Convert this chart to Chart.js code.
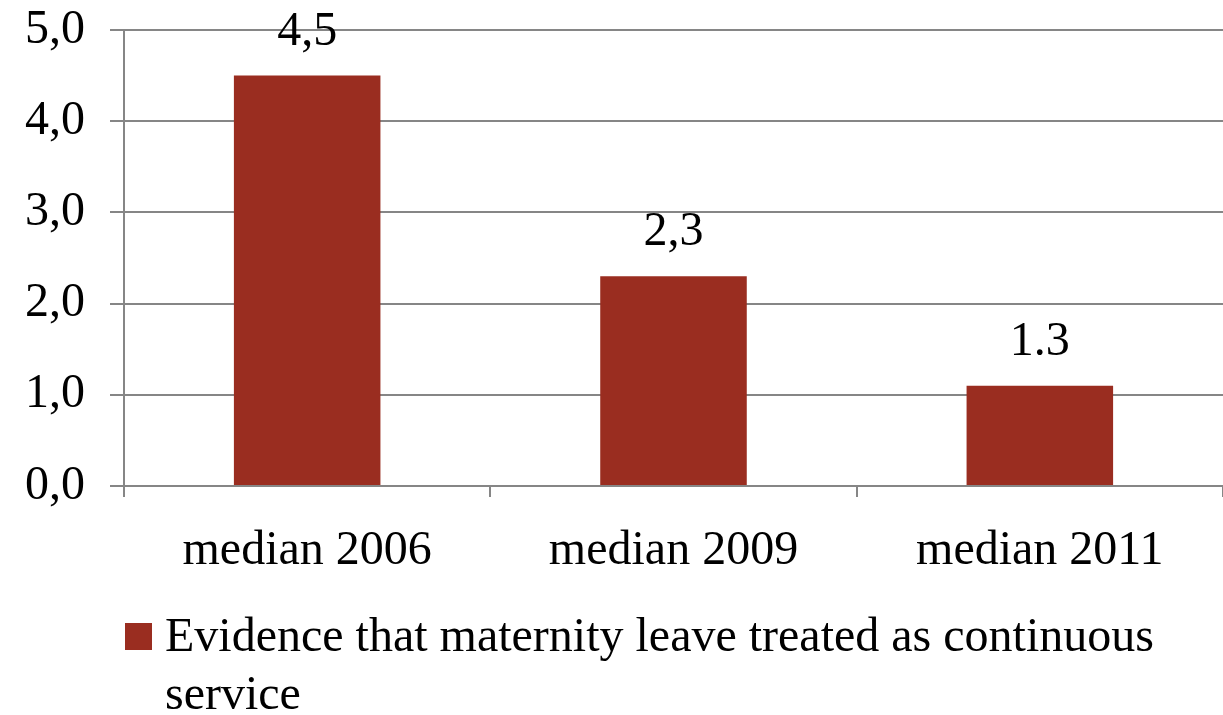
<!DOCTYPE html>
<html>
<head>
<meta charset="utf-8">
<script src="https://cdn.jsdelivr.net/npm/chart.js@4"></script>
<style>
  html, body { margin: 0; padding: 0; background: #fff; }
  #wrap { width: 1223px; height: 715px; }
</style>
</head>
<body>
<div id="wrap"><canvas id="maternityChart"></canvas></div>
<script>
const categories = ["median 2006", "median 2009", "median 2011"]
const values = [4.5, 2.3, 1.1]
const valueLabels = ["4,5", "2,3", "1.3"]
const yTicks = ["0,0", "1,0", "2,0", "3,0", "4,0", "5,0"]
const seriesName = "Evidence that maternity leave treated as continuous service"

const FONT = "'Liberation Serif', 'DejaVu Serif', serif"
const FONT_SIZE = 48
const barColor = "#9a2d20"
const gridColor = "#868686"

// value labels over each bar
const barLabels = {
  id: "barLabels",
  afterDatasetsDraw(chart) {
    const ctx = chart.ctx
    const meta = chart.getDatasetMeta(0)
    ctx.save()
    ctx.font = FONT_SIZE + "px " + FONT
    ctx.fillStyle = "#000"
    ctx.textAlign = "center"
    ctx.textBaseline = "alphabetic"
    meta.data.forEach((bar, i) => {
      ctx.fillText(valueLabels[i], bar.x, bar.y - 31)
    })
    ctx.restore()
  }
}

// legend at the bottom, wrapped onto two lines
const wrappedLegend = {
  id: "wrappedLegend",
  afterDraw(chart) {
    const ctx = chart.ctx
    ctx.save()
    ctx.font = FONT_SIZE + "px " + FONT
    const left = 165
    const maxWidth = chart.width - left - 20
    const words = chart.data.datasets[0].label.split(" ")
    const lines = []
    let line = ""
    words.forEach(w => {
      const test = line ? line + " " + w : w
      if (ctx.measureText(test).width > maxWidth && line) {
        lines.push(line)
        line = w
      } else {
        line = test
      }
    })
    lines.push(line)
    ctx.fillStyle = barColor
    ctx.fillRect(125, 623, 27, 27)
    ctx.fillStyle = "#000"
    ctx.textBaseline = "alphabetic"
    lines.forEach((l, i) => ctx.fillText(l, left, 651 + i * 58))
    ctx.restore()
  }
}

const ctx = document.getElementById("maternityChart").getContext("2d")
const myChart = new Chart(ctx, {
  type: "bar",
  data: {
    labels: categories,
    datasets: [{
      label: seriesName,
      data: values,
      backgroundColor: barColor,
      barPercentage: 0.8,
      categoryPercentage: 0.5,
    }]
  },
  options: {
    responsive: true,
    maintainAspectRatio: false,
    animation: false,
    layout: { padding: { top: 30, right: 0, bottom: 0, left: 0 } },
    plugins: {
      legend: { display: false },
      tooltip: { enabled: false }
    },
    scales: {
      x: {
        grid: {
          offset: true,
          drawOnChartArea: false,
          drawTicks: true,
          tickLength: 11,
          color: gridColor,
          lineWidth: 2
        },
        border: { color: gridColor, width: 2 },
        ticks: {
          color: "#000",
          font: { family: FONT, size: FONT_SIZE },
          padding: 26
        },
        afterFit(scale) {
          scale.height = 229
          scale.paddingLeft = 0
          scale.paddingRight = 0
        }
      },
      y: {
        min: 0,
        max: 5,
        grid: {
          color: gridColor,
          lineWidth: 2,
          tickLength: 14
        },
        border: { color: gridColor, width: 2 },
        ticks: {
          stepSize: 1,
          color: "#000",
          font: { family: FONT, size: FONT_SIZE },
          padding: 25,
          callback: (v, i) => yTicks[i]
        },
        afterFit(scale) {
          scale.width = 124
          scale.paddingTop = 0
          scale.paddingBottom = 0
        }
      }
    }
  },
  plugins: [barLabels, wrappedLegend]
})
</script>
</body>
</html>
